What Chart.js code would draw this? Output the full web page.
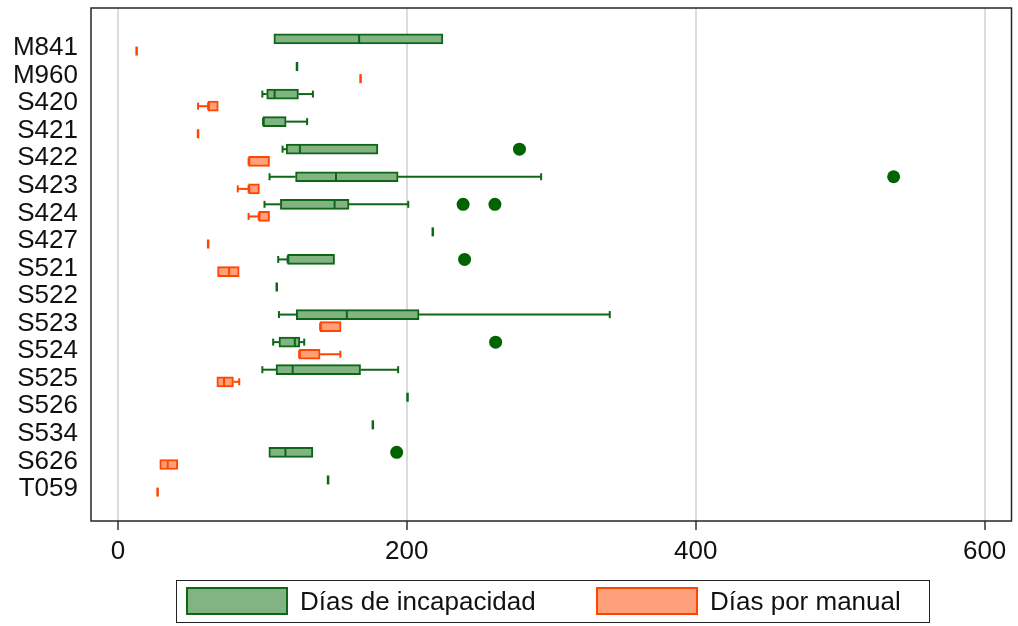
<!DOCTYPE html>
<html>
<head>
<meta charset="utf-8">
<script src="https://cdn.jsdelivr.net/npm/chart.js@4.4.1/dist/chart.umd.min.js"></script>
<style>
  html, body { margin: 0; padding: 0; background: #fff; overflow: hidden; }
  #wrap { position: relative; width: 1018px; height: 626px; }
  #chart { position: absolute; left: 0; top: 0; }
  #legend {
    position: absolute; left: 176px; top: 580px; width: 754px; height: 43px;
    border: 1.5px solid #222; box-sizing: border-box;
    font-family: 'Liberation Sans', Arial, sans-serif; font-size: 26px; color: #111;
  }
  .item { position: absolute; top: 6px; height: 28px; display: flex; align-items: center; }
  .sw { width: 102px; height: 28px; box-sizing: border-box; border: 2px solid; }
  .lab { margin-left: 12px; white-space: nowrap; line-height: 28px; }
</style>
</head>
<body>
<div id="wrap">
  <canvas id="chart" width="1018" height="626"></canvas>
  <div id="legend"></div>
</div>
<script>
// Categories (one row each)
const categories = ['M841','M960','S420','S421','S422','S423','S424','S427','S521',
                    'S522','S523','S524','S525','S526','S534','S626','T059'];
const seriesNames = ['Días de incapacidad', 'Días por manual'];
const xTicks = [0, 200, 400, 600];

// Días de incapacidad: lower whisker, Q1, median, Q3, upper whisker
const incapLo  = [108, 124, 100,   100.5, 114,   105, 101.5, 218, 111,   110, 111.5, 107.5, 100,   200.5, 176.5, 104.5, 145.5];
const incapQ1  = [108, 124, 103,   100.5, 116.5, 123, 112.5, 218, 117.5, 110, 123.5, 111.5, 109.5, 200.5, 176.5, 104.5, 145.5];
const incapMed = [167, 124, 108.5, 100.5, 126,   151, 150,   218, 117.5, 110, 158.5, 122.5, 121,   200.5, 176.5, 116,   145.5];
const incapQ3  = [225, 124, 125,   116.5, 180,   194, 160,   218, 150,   110, 208.5, 126,   168,   200.5, 176.5, 135,   145.5];
const incapHi  = [225, 124, 135,   131,   180,   293, 201,   218, 150,   110, 340.5, 129,   194,   200.5, 176.5, 135,   145.5];

// Días de incapacidad: outside values
const outlierCats = ['S422', 'S423', 'S424', 'S424', 'S521', 'S524', 'S626'];
const outlierVals = [278,    537,    239,    261,    240,    261.5,  193];

// Días por manual: lower whisker, Q1, median, Q3, upper whisker
const manualLo  = [13, 168, 55.5, 55.5, 90.5, 83,   90.5, 62.5, 69, null, 140,   125.5, 68.5, null, null, 29,   27.5];
const manualQ1  = [13, 168, 62.5, 55.5, 90.5, 90.5, 97.5, 62.5, 69, null, 140,   125.5, 68.5, null, null, 29,   27.5];
const manualMed = [13, 168, 62.5, 55.5, 90.5, 90.5, 97.5, 62.5, 77, null, 140,   125.5, 73.5, null, null, 34.5, 27.5];
const manualQ3  = [13, 168, 69.5, 55.5, 105,  98,   105,  62.5, 84, null, 154.5, 140,   80,   null, null, 41.5, 27.5];
const manualHi  = [13, 168, 69.5, 55.5, 105,  98,   105,  62.5, 84, null, 154.5, 154,   84,   null, null, 41.5, 27.5];

const FONT = "'Liberation Sans', Arial, sans-serif";
const GREEN_FILL = '#82b382', GREEN_LINE = '#0f6617', GREEN_DOT = '#006400';
const ORANGE_FILL = '#ffa07a', ORANGE_LINE = '#ff4500';
const OFFSET = 0.22;      // vertical shift of each series inside a category row
const BOX_H = 10;         // box thickness in px

const series = [
  { name: seriesNames[0], lo: incapLo, q1: incapQ1, med: incapMed, q3: incapQ3, hi: incapHi,
    off: -OFFSET, fill: GREEN_FILL, line: GREEN_LINE },
  { name: seriesNames[1], lo: manualLo, q1: manualQ1, med: manualMed, q3: manualQ3, hi: manualHi,
    off: OFFSET, fill: ORANGE_FILL, line: ORANGE_LINE }
];

function boxData(s) {
  const out = [];
  categories.forEach((c, i) => {
    if (s.q1[i] == null) return;
    out.push({ y: i + 1 + s.off, x: [s.q1[i], s.q3[i]] });
  });
  return out;
}

// Whiskers, caps and median lines, placed through the chart scales
const whiskerPlugin = {
  id: 'whiskers',
  afterDatasetsDraw(chart) {
    const xs = chart.scales.x, ys = chart.scales.y, ctx = chart.ctx;
    ctx.save();
    ctx.lineCap = 'butt';
    series.forEach(s => {
      ctx.strokeStyle = s.line;
      categories.forEach((c, i) => {
        if (s.q1[i] == null) return;
        const y = ys.getPixelForValue(i + 1 + s.off);
        const pLo = xs.getPixelForValue(s.lo[i]), pQ1 = xs.getPixelForValue(s.q1[i]);
        const pQ3 = xs.getPixelForValue(s.q3[i]), pHi = xs.getPixelForValue(s.hi[i]);
        const pMed = xs.getPixelForValue(s.med[i]);
        ctx.lineWidth = 2;
        if (s.lo[i] < s.q1[i]) {
          ctx.beginPath(); ctx.moveTo(pLo, y); ctx.lineTo(pQ1, y); ctx.stroke();
          ctx.beginPath(); ctx.moveTo(pLo, y - 3.5); ctx.lineTo(pLo, y + 3.5); ctx.stroke();
        }
        if (s.hi[i] > s.q3[i]) {
          ctx.beginPath(); ctx.moveTo(pQ3, y); ctx.lineTo(pHi, y); ctx.stroke();
          ctx.beginPath(); ctx.moveTo(pHi, y - 3.5); ctx.lineTo(pHi, y + 3.5); ctx.stroke();
        }
        const single = s.q1[i] === s.q3[i];
        ctx.lineWidth = single ? 2.5 : 2;
        const h = single ? 4.5 : BOX_H / 2 - 1;
        ctx.beginPath(); ctx.moveTo(pMed, y - h); ctx.lineTo(pMed, y + h); ctx.stroke();
      });
    });
    ctx.restore();
  }
};

// Dark frame round the plot area
const framePlugin = {
  id: 'frame',
  afterDraw(chart) {
    const a = chart.chartArea, ctx = chart.ctx;
    ctx.save();
    ctx.strokeStyle = '#262626';
    ctx.lineWidth = 1.5;
    ctx.strokeRect(a.left, a.top, a.right - a.left, a.bottom - a.top);
    ctx.restore();
  }
};

new Chart(document.getElementById('chart'), {
  type: 'bar',
  data: {
    datasets: [
      ...series.map(s => ({
        type: 'bar',
        label: s.name,
        data: boxData(s),
        backgroundColor: s.fill,
        borderColor: s.line,
        borderWidth: 2,
        borderSkipped: false,
        barThickness: BOX_H,
        grouped: false
      })),
      {
        type: 'scatter',
        label: 'outliers',
        data: outlierCats.map((c, k) => ({ x: outlierVals[k], y: categories.indexOf(c) + 1 - OFFSET })),
        backgroundColor: GREEN_DOT,
        borderWidth: 0,
        pointRadius: 6.5,
        xAxisID: 'x',
        yAxisID: 'y'
      }
    ]
  },
  options: {
    indexAxis: 'y',
    responsive: false,
    animation: false,
    devicePixelRatio: 1,
    layout: { padding: { left: 0, top: 8, right: 0, bottom: 60 } },
    plugins: { legend: { display: false }, tooltip: { enabled: false } },
    scales: {
      x: {
        type: 'linear',
        position: 'bottom',
        offset: false,
        min: -18.6,
        max: 618.6,
        afterBuildTicks: scale => { scale.ticks = xTicks.map(v => ({ value: v })); },
        afterFit: scale => {
          scale.height = 45;
          scale.paddingLeft = 0; scale.paddingRight = 0;
        },
        grid: { color: '#dcdcdc', lineWidth: 2, drawTicks: true, tickLength: 9, tickColor: '#333', tickWidth: 1.5, offset: false },
        border: { display: false },
        ticks: { font: { family: FONT, size: 26 }, color: '#111', padding: 6, maxRotation: 0 }
      },
      y: {
        type: 'linear',
        reverse: true,
        offset: false,
        min: -0.343,
        max: 18.27,
        afterBuildTicks: scale => { scale.ticks = categories.map((c, i) => ({ value: i + 1 })); },
        afterFit: scale => {
          scale.width = 91;
          scale.paddingTop = 0; scale.paddingBottom = 0;
        },
        grid: { display: false, drawTicks: false, offset: false },
        border: { display: false },
        ticks: {
          autoSkip: false,
          font: { family: FONT, size: 26 },
          color: '#111',
          padding: 13,
          labelOffset: 3,
          callback: (v, idx) => categories[idx]
        }
      }
    }
  },
  plugins: [whiskerPlugin, framePlugin]
});

// Legend built from the series names and colours
const legend = document.getElementById('legend');
const itemLeft = [9, 419];
series.forEach((s, k) => {
  const it = document.createElement('div');
  it.className = 'item';
  it.style.left = itemLeft[k] + 'px';
  const sw = document.createElement('div');
  sw.className = 'sw';
  sw.style.background = s.fill;
  sw.style.borderColor = s.line;
  const lab = document.createElement('span');
  lab.className = 'lab';
  lab.textContent = s.name;
  it.appendChild(sw); it.appendChild(lab);
  legend.appendChild(it);
});
</script>
</body>
</html>
